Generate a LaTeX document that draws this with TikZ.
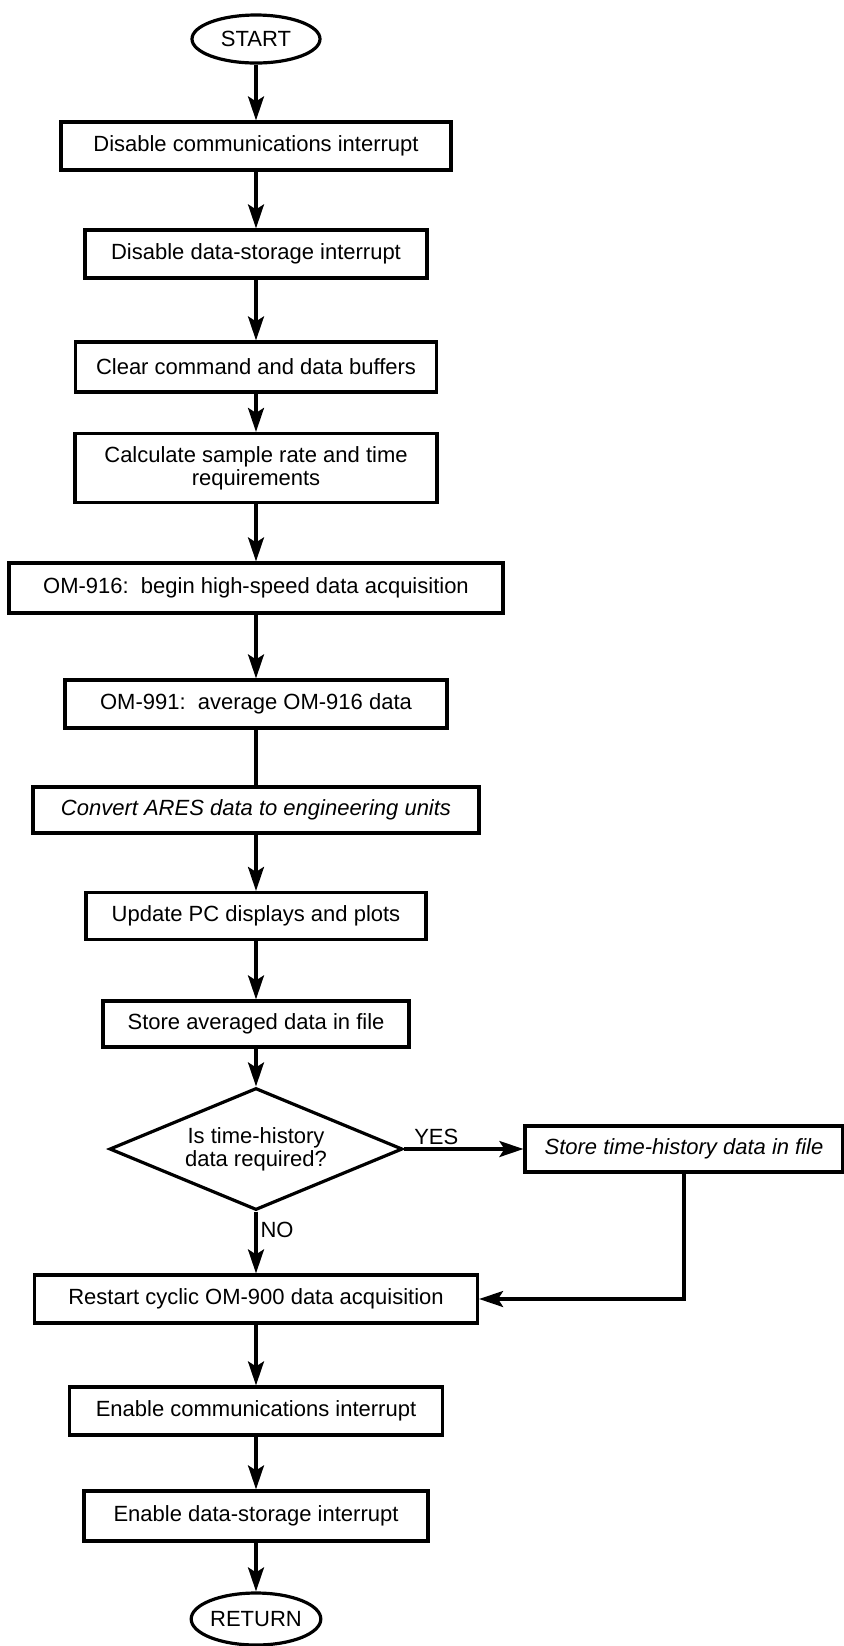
\documentclass[tikz,border=0pt]{standalone}
\usepackage{fontspec}
\setmainfont{Liberation Sans}
\usetikzlibrary{positioning,shapes.geometric,arrows.meta}

\tikzset{
    stepbox/.style={draw, rectangle, line width=1.6pt, inner sep=2pt,
        minimum height=24pt, align=center,
        font=\fontsize{11}{11.5}\selectfont},
    terminal/.style={draw, ellipse, line width=1.6pt, inner sep=0pt,
        minimum width=64pt, minimum height=24pt,
        font=\fontsize{11}{11.5}\selectfont},
    decision/.style={draw, diamond, aspect=2.4, line width=1.6pt, inner sep=0pt,
        minimum width=146.5pt, minimum height=61pt, align=center,
        font=\fontsize{11}{11.5}\selectfont},
    flow/.style={line width=1.6pt, -{Stealth[length=12pt,width=8pt,inset=2.5pt]}},
    plain/.style={line width=1.6pt},
    tag/.style={font=\fontsize{11}{11.5}\selectfont, inner sep=1.5pt}
}

\begin{document}
\begin{tikzpicture}[x=0.5pt,y=-0.5pt]

    \useasboundingbox (0,0) rectangle (844,1646);

    % main column
    \node[terminal] (start) at (256,39) {START};
    \node[stepbox, minimum width=195pt] (discomm) at (256,146)
        {Disable communications interrupt};
    \node[stepbox, minimum width=171pt] (disdata) at (256,254)
        {Disable data-storage interrupt};
    \node[stepbox, minimum width=180.5pt, minimum height=25pt] (clear) at (256,367)
        {Clear command and data buffers};
    \node[stepbox, minimum width=181pt, minimum height=34.5pt] (calc) at (256,468)
        {Calculate sample rate and time\\requirements};
    \node[stepbox, minimum width=247pt, minimum height=25pt] (hsacq) at (256,588)
        {OM-916:\ \ begin high-speed data acquisition};
    \node[stepbox, minimum width=191pt] (average) at (256,704)
        {OM-991:\ \ average OM-916 data};
    \node[stepbox, minimum width=223pt, minimum height=23pt] (convert) at (256,810)
        {\itshape Convert ARES data to engineering units};
    \node[stepbox, minimum width=170pt, minimum height=23.5pt] (update) at (256,916)
        {Update PC displays and plots};
    \node[stepbox, minimum width=153pt, minimum height=23pt] (storeavg) at (256,1024)
        {Store averaged data in file};
    \node[decision] (query) at (256,1149)
        {Is time-history\\data required?};
    \node[stepbox, minimum width=159pt, minimum height=23pt] (storeth) at (684,1149)
        {\itshape Store time-history data in file};
    \node[stepbox, minimum width=221.5pt] (restart) at (256,1299)
        {Restart cyclic OM-900 data acquisition};
    \node[stepbox, minimum width=186.5pt] (encomm) at (256,1411)
        {Enable communications interrupt};
    \node[stepbox, minimum width=172pt, minimum height=25pt] (endata) at (256,1516)
        {Enable data-storage interrupt};
    \node[terminal, minimum height=26pt] (return) at (256,1619) {RETURN};

    % connectors
    \draw[flow] (start) -- (discomm);
    \draw[flow] (discomm) -- (disdata);
    \draw[flow] (disdata) -- (clear);
    \draw[flow] (clear) -- (calc);
    \draw[flow] (calc) -- (hsacq);
    \draw[flow] (hsacq) -- (average);
    \draw[plain] (average) -- (convert);
    \draw[flow] (convert) -- (update);
    \draw[flow] (update) -- (storeavg);
    \draw[flow] (storeavg) -- (query.north);
    \draw[flow] (query.east) -- (storeth.west)
        node[tag, pos=0.27, above]{YES};
    \draw[flow] (query.south) -- (restart.north)
        node[tag, pos=0.3, right]{NO};
    \draw[flow] (storeth.south) |- (restart.east);
    \draw[flow] (restart) -- (encomm);
    \draw[flow] (encomm) -- (endata);
    \draw[flow] (endata) -- (return);

\end{tikzpicture}
\end{document}
